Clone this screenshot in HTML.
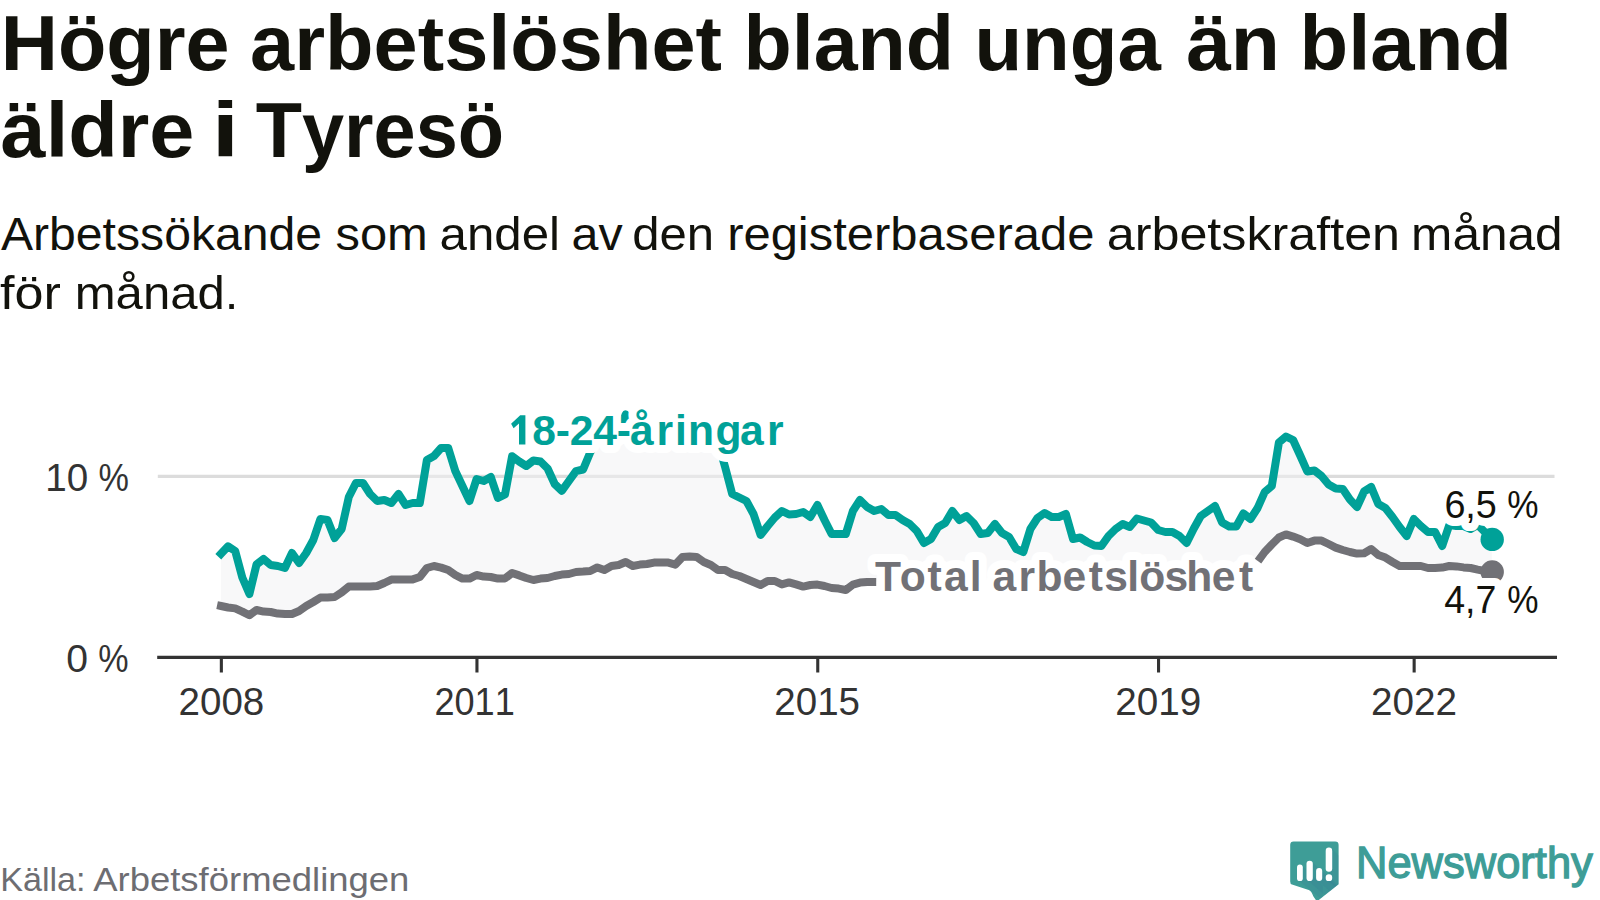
<!DOCTYPE html>
<html><head><meta charset="utf-8"><title>chart</title>
<style>
html,body{margin:0;padding:0;background:#fff;overflow:hidden;}
svg{display:block;}
text{font-family:"Liberation Sans",sans-serif;font-kerning:none;}
</style></head><body>
<svg width="1600" height="900" viewBox="0 0 1600 900">
<rect width="1600" height="900" fill="#ffffff"/>
<g fill="#12120c" font-weight="bold" font-size="78.5">
<text x="0.80" y="70.3" textLength="228.70" lengthAdjust="spacingAndGlyphs">Högre</text>
<text x="250.07" y="70.3" textLength="471.99" lengthAdjust="spacingAndGlyphs">arbetslöshet</text>
<text x="743.49" y="70.3" textLength="210.61" lengthAdjust="spacingAndGlyphs">bland</text>
<text x="974.41" y="70.3" textLength="186.39" lengthAdjust="spacingAndGlyphs">unga</text>
<text x="1186.16" y="70.3" textLength="93.83" lengthAdjust="spacingAndGlyphs">än</text>
<text x="1299.55" y="70.3" textLength="212.40" lengthAdjust="spacingAndGlyphs">bland</text>
<text x="0.64" y="156.6" textLength="193.83" lengthAdjust="spacingAndGlyphs">äldre</text>
<text x="211.83" y="156.6" textLength="27.34" lengthAdjust="spacingAndGlyphs">i</text>
<text x="255.65" y="156.6" textLength="248.51" lengthAdjust="spacingAndGlyphs">Tyresö</text>
</g>
<g fill="#12120c" font-size="47">
<text x="0.91" y="249.5" textLength="321.23" lengthAdjust="spacingAndGlyphs">Arbetssökande</text>
<text x="335.44" y="249.5" textLength="92.38" lengthAdjust="spacingAndGlyphs">som</text>
<text x="439.61" y="249.5" textLength="120.38" lengthAdjust="spacingAndGlyphs">andel</text>
<text x="571.54" y="249.5" textLength="51.12" lengthAdjust="spacingAndGlyphs">av</text>
<text x="632.24" y="249.5" textLength="81.85" lengthAdjust="spacingAndGlyphs">den</text>
<text x="727.15" y="249.5" textLength="367.22" lengthAdjust="spacingAndGlyphs">registerbaserade</text>
<text x="1106.77" y="249.5" textLength="293.30" lengthAdjust="spacingAndGlyphs">arbetskraften</text>
<text x="1411.11" y="249.5" textLength="151.59" lengthAdjust="spacingAndGlyphs">månad</text>
<text x="0.01" y="309.2" textLength="60.85" lengthAdjust="spacingAndGlyphs">för</text>
<text x="74.74" y="309.2" textLength="163.74" lengthAdjust="spacingAndGlyphs">månad.</text>
</g>
<line x1="157.8" y1="476.4" x2="1554.5" y2="476.4" stroke="#dcdcdc" stroke-width="3.1"/>
<polygon points="221.0,553.8 228.1,546.3 235.2,551.0 242.3,577.5 249.4,594.0 256.5,564.5 263.6,559.0 270.7,565.0 277.8,566.0 284.9,568.0 292.0,553.0 299.1,563.0 306.2,553.0 313.3,540.0 320.4,519.0 327.5,520.0 334.6,538.0 341.7,529.0 348.8,497.0 355.9,483.0 363.0,483.0 370.1,494.0 377.2,501.0 384.3,500.0 391.4,503.0 398.5,494.0 405.6,505.0 412.7,503.0 419.8,503.0 426.9,460.0 434.0,456.0 441.1,448.0 448.2,448.0 455.3,471.0 462.4,486.0 469.5,501.0 476.6,479.0 483.7,481.0 490.8,477.0 497.9,498.0 505.0,494.5 512.1,456.2 519.2,461.5 526.3,466.0 533.4,460.5 540.5,461.5 547.6,468.5 554.7,484.0 561.8,490.8 568.9,481.0 576.0,471.2 583.1,469.5 590.2,452.5 597.3,441.0 604.4,438.0 611.5,436.0 618.6,432.0 625.7,414.5 632.8,428.0 639.9,432.0 647.0,436.0 654.1,434.0 661.2,437.0 668.3,439.0 675.4,436.0 682.5,438.0 689.6,440.0 696.7,438.0 703.8,440.0 710.9,441.0 718.0,442.0 725.1,467.0 732.2,494.0 739.3,497.5 746.4,501.0 753.5,514.0 760.6,535.0 767.7,526.0 774.8,517.5 781.9,511.0 789.0,514.5 796.1,514.0 803.2,512.0 810.3,517.0 817.4,505.0 824.5,520.0 831.6,534.0 838.7,534.0 845.8,534.0 852.9,511.0 860.0,500.0 867.1,507.0 874.2,511.0 881.3,509.0 888.4,515.0 895.5,515.0 902.6,520.0 909.7,524.0 916.8,531.0 923.9,543.0 931.0,539.0 938.1,527.0 945.2,523.0 952.3,511.0 959.4,520.0 966.5,516.0 973.6,523.0 980.7,534.0 987.8,533.0 994.9,524.0 1002.0,533.0 1009.1,537.0 1016.2,549.0 1023.3,552.0 1030.4,529.0 1037.5,518.0 1044.6,513.0 1051.7,517.0 1058.8,517.0 1065.9,514.0 1073.0,539.0 1080.1,537.5 1087.2,542.0 1094.3,545.5 1101.4,546.0 1108.5,536.0 1115.6,529.0 1122.7,524.0 1129.8,527.0 1136.9,518.5 1144.0,520.5 1151.1,522.5 1158.2,530.0 1165.3,532.0 1172.4,532.0 1179.5,536.0 1186.6,543.0 1193.7,528.7 1200.8,516.0 1207.9,511.0 1215.0,506.0 1222.1,522.5 1229.2,526.5 1236.3,526.5 1243.4,513.5 1250.5,519.0 1257.6,508.0 1264.7,492.0 1271.8,486.0 1278.9,442.5 1286.0,436.5 1293.1,440.0 1300.2,455.5 1307.3,471.5 1314.4,470.5 1321.5,476.0 1328.6,484.5 1335.7,488.5 1342.8,489.0 1349.9,499.5 1357.0,507.0 1364.1,491.5 1371.2,487.0 1378.3,504.0 1385.4,508.0 1392.5,517.0 1399.6,527.0 1406.7,536.0 1413.8,519.0 1420.9,526.0 1428.0,532.0 1435.1,532.0 1442.2,546.0 1449.3,525.0 1456.4,526.0 1463.5,526.0 1470.6,529.0 1477.7,525.0 1484.8,532.0 1491.9,539.3 1491.9,571.9 1484.8,571.0 1477.7,569.6 1470.6,568.0 1463.5,567.4 1456.4,566.4 1449.3,566.0 1442.2,567.6 1435.1,568.0 1428.0,568.0 1420.9,566.0 1413.8,566.0 1406.7,566.0 1399.6,566.0 1392.5,562.0 1385.4,557.6 1378.3,555.0 1371.2,549.0 1364.1,553.2 1357.0,553.6 1349.9,552.0 1342.8,550.0 1335.7,547.6 1328.6,544.0 1321.5,540.6 1314.4,540.6 1307.3,543.0 1300.2,539.2 1293.1,536.6 1286.0,534.4 1278.9,537.5 1271.8,544.5 1264.7,552.0 1257.6,561.0 1250.5,565.0 1243.4,568.4 1236.3,571.8 1229.2,575.2 1222.1,578.6 1215.0,582.9 1207.9,583.4 1200.8,583.8 1193.7,584.0 1186.6,584.0 1179.5,583.7 1172.4,583.3 1165.3,582.7 1158.2,582.0 1151.1,581.4 1144.0,580.8 1136.9,580.3 1129.8,580.1 1122.7,580.0 1115.6,580.2 1108.5,580.5 1101.4,581.1 1094.3,581.7 1087.2,582.3 1080.1,583.0 1073.0,583.5 1065.9,583.8 1058.8,584.0 1051.7,583.9 1044.6,583.6 1037.5,583.2 1030.4,582.6 1023.3,581.9 1016.2,581.3 1009.1,580.7 1002.0,580.3 994.9,580.0 987.8,580.0 980.7,580.2 973.6,580.6 966.5,581.1 959.4,581.8 952.3,582.4 945.2,583.1 938.1,583.6 931.0,583.9 923.9,584.0 916.8,583.9 909.7,583.6 902.6,583.1 895.5,582.5 888.4,581.8 881.3,581.2 874.2,582.0 867.1,582.0 860.0,582.6 852.9,584.6 845.8,590.0 838.7,588.6 831.6,588.0 824.5,586.0 817.4,584.6 810.3,585.0 803.2,586.6 796.1,584.4 789.0,582.4 781.9,584.4 774.8,581.0 767.7,581.0 760.6,585.0 753.5,582.0 746.4,579.0 739.3,576.0 732.2,574.0 725.1,570.0 718.0,570.0 710.9,565.0 703.8,562.0 696.7,557.0 689.6,556.6 682.5,557.0 675.4,564.6 668.3,562.6 661.2,562.4 654.1,562.6 647.0,564.0 639.9,564.6 632.8,566.0 625.7,562.0 618.6,565.0 611.5,566.0 604.4,570.0 597.3,567.4 590.2,571.0 583.1,571.6 576.0,572.0 568.9,574.0 561.8,574.6 554.7,576.0 547.6,578.0 540.5,578.6 533.4,580.0 526.3,578.0 519.2,575.4 512.1,573.0 505.0,578.4 497.9,578.6 490.8,577.0 483.7,576.6 476.6,575.0 469.5,578.6 462.4,578.6 455.3,575.0 448.2,570.0 441.1,567.6 434.0,566.0 426.9,568.0 419.8,577.0 412.7,579.4 405.6,579.4 398.5,579.4 391.4,579.6 384.3,583.0 377.2,586.0 370.1,586.4 363.0,586.4 355.9,586.4 348.8,586.6 341.7,592.4 334.6,597.0 327.5,597.6 320.4,597.6 313.3,602.0 306.2,606.0 299.1,611.0 292.0,614.0 284.9,614.0 277.8,613.6 270.7,612.0 263.6,611.6 256.5,610.0 249.4,615.2 242.3,611.6 235.2,608.4 228.1,607.5 221.0,606.0" fill="rgba(242,242,244,0.5)"/>
<text x="874.9 899.8 927.6 943.9 969.7 981.6 992.4 1018.4 1036.5 1062.4 1088.8 1104.2 1127.2 1139.2 1164.4 1186.2 1211.8 1238.9" y="591.2" font-weight="bold" font-size="42.6" fill="#ffffff" stroke="#ffffff" stroke-width="16" stroke-linejoin="round">Total arbetslöshet</text>
<g fill="none" stroke-linejoin="round" stroke-linecap="butt" stroke-width="8.0">
<polyline points="217.1,605.2 221.0,606.0 228.1,607.5 235.2,608.4 242.3,611.6 249.4,615.2 256.5,610.0 263.6,611.6 270.7,612.0 277.8,613.6 284.9,614.0 292.0,614.0 299.1,611.0 306.2,606.0 313.3,602.0 320.4,597.6 327.5,597.6 334.6,597.0 341.7,592.4 348.8,586.6 355.9,586.4 363.0,586.4 370.1,586.4 377.2,586.0 384.3,583.0 391.4,579.6 398.5,579.4 405.6,579.4 412.7,579.4 419.8,577.0 426.9,568.0 434.0,566.0 441.1,567.6 448.2,570.0 455.3,575.0 462.4,578.6 469.5,578.6 476.6,575.0 483.7,576.6 490.8,577.0 497.9,578.6 505.0,578.4 512.1,573.0 519.2,575.4 526.3,578.0 533.4,580.0 540.5,578.6 547.6,578.0 554.7,576.0 561.8,574.6 568.9,574.0 576.0,572.0 583.1,571.6 590.2,571.0 597.3,567.4 604.4,570.0 611.5,566.0 618.6,565.0 625.7,562.0 632.8,566.0 639.9,564.6 647.0,564.0 654.1,562.6 661.2,562.4 668.3,562.6 675.4,564.6 682.5,557.0 689.6,556.6 696.7,557.0 703.8,562.0 710.9,565.0 718.0,570.0 725.1,570.0 732.2,574.0 739.3,576.0 746.4,579.0 753.5,582.0 760.6,585.0 767.7,581.0 774.8,581.0 781.9,584.4 789.0,582.4 796.1,584.4 803.2,586.6 810.3,585.0 817.4,584.6 824.5,586.0 831.6,588.0 838.7,588.6 845.8,590.0 852.9,584.6 860.0,582.6 867.1,582.0 874.2,582.0 876.2,582.0" stroke="#717176"/>
<polyline points="1258.0,561.2 1264.7,552.0 1271.8,544.5 1278.9,537.5 1286.0,534.4 1293.1,536.6 1300.2,539.2 1307.3,543.0 1314.4,540.6 1321.5,540.6 1328.6,544.0 1335.7,547.6 1342.8,550.0 1349.9,552.0 1357.0,553.6 1364.1,553.2 1371.2,549.0 1378.3,555.0 1385.4,557.6 1392.5,562.0 1399.6,566.0 1406.7,566.0 1413.8,566.0 1420.9,566.0 1428.0,568.0 1435.1,568.0 1442.2,567.6 1449.3,566.0 1456.4,566.4 1463.5,567.4 1470.6,568.0 1477.7,569.6 1484.8,571.0 1491.9,571.9" stroke="#717176"/>
<polyline points="218.3,556.7 221.0,553.8 228.1,546.3 235.2,551.0 242.3,577.5 249.4,594.0 256.5,564.5 263.6,559.0 270.7,565.0 277.8,566.0 284.9,568.0 292.0,553.0 299.1,563.0 306.2,553.0 313.3,540.0 320.4,519.0 327.5,520.0 334.6,538.0 341.7,529.0 348.8,497.0 355.9,483.0 363.0,483.0 370.1,494.0 377.2,501.0 384.3,500.0 391.4,503.0 398.5,494.0 405.6,505.0 412.7,503.0 419.8,503.0 426.9,460.0 434.0,456.0 441.1,448.0 448.2,448.0 455.3,471.0 462.4,486.0 469.5,501.0 476.6,479.0 483.7,481.0 490.8,477.0 497.9,498.0 505.0,494.5 512.1,456.2 519.2,461.5 526.3,466.0 533.4,460.5 540.5,461.5 547.6,468.5 554.7,484.0 561.8,490.8 568.9,481.0 576.0,471.2 583.1,469.5 590.2,452.5 597.3,441.0 604.4,438.0 611.5,436.0 618.6,432.0 625.7,414.5 632.8,428.0 639.9,432.0 647.0,436.0 654.1,434.0 661.2,437.0 668.3,439.0 675.4,436.0 682.5,438.0 689.6,440.0 696.7,438.0 703.8,440.0 710.9,441.0 718.0,442.0 725.1,467.0 732.2,494.0 739.3,497.5 746.4,501.0 753.5,514.0 760.6,535.0 767.7,526.0 774.8,517.5 781.9,511.0 789.0,514.5 796.1,514.0 803.2,512.0 810.3,517.0 817.4,505.0 824.5,520.0 831.6,534.0 838.7,534.0 845.8,534.0 852.9,511.0 860.0,500.0 867.1,507.0 874.2,511.0 881.3,509.0 888.4,515.0 895.5,515.0 902.6,520.0 909.7,524.0 916.8,531.0 923.9,543.0 931.0,539.0 938.1,527.0 945.2,523.0 952.3,511.0 959.4,520.0 966.5,516.0 973.6,523.0 980.7,534.0 987.8,533.0 994.9,524.0 1002.0,533.0 1009.1,537.0 1016.2,549.0 1023.3,552.0 1030.4,529.0 1037.5,518.0 1044.6,513.0 1051.7,517.0 1058.8,517.0 1065.9,514.0 1073.0,539.0 1080.1,537.5 1087.2,542.0 1094.3,545.5 1101.4,546.0 1108.5,536.0 1115.6,529.0 1122.7,524.0 1129.8,527.0 1136.9,518.5 1144.0,520.5 1151.1,522.5 1158.2,530.0 1165.3,532.0 1172.4,532.0 1179.5,536.0 1186.6,543.0 1193.7,528.7 1200.8,516.0 1207.9,511.0 1215.0,506.0 1222.1,522.5 1229.2,526.5 1236.3,526.5 1243.4,513.5 1250.5,519.0 1257.6,508.0 1264.7,492.0 1271.8,486.0 1278.9,442.5 1286.0,436.5 1293.1,440.0 1300.2,455.5 1307.3,471.5 1314.4,470.5 1321.5,476.0 1328.6,484.5 1335.7,488.5 1342.8,489.0 1349.9,499.5 1357.0,507.0 1364.1,491.5 1371.2,487.0 1378.3,504.0 1385.4,508.0 1392.5,517.0 1399.6,527.0 1406.7,536.0 1413.8,519.0 1420.9,526.0 1428.0,532.0 1435.1,532.0 1442.2,546.0 1449.3,525.0 1456.4,526.0 1463.5,526.0 1470.6,529.0 1477.7,525.0 1484.8,532.0 1491.9,539.3" stroke="#00a198"/>
</g>
<circle cx="1492.2" cy="572" r="11.7" fill="#717176"/>
<circle cx="1492.2" cy="539.4" r="11.7" fill="#00a198"/>
<line x1="157.2" y1="657.4" x2="1557" y2="657.4" stroke="#333333" stroke-width="3.1"/>
<g stroke="#333333" stroke-width="3.1">
<line x1="221.35" y1="657" x2="221.35" y2="672.5"/>
<line x1="476.95" y1="657" x2="476.95" y2="672.5"/>
<line x1="817.75" y1="657" x2="817.75" y2="672.5"/>
<line x1="1158.55" y1="657" x2="1158.55" y2="672.5"/>
<line x1="1414.15" y1="657" x2="1414.15" y2="672.5"/>
</g>
<g fill="#333333" font-size="38.8">
<text x="45.16" y="490.75" textLength="42.95" lengthAdjust="spacingAndGlyphs">10</text>
<text x="98.38" y="490.75" textLength="30.44" lengthAdjust="spacingAndGlyphs">%</text>
<text x="66.17" y="671.7" textLength="21.76" lengthAdjust="spacingAndGlyphs">0</text>
<text x="98.18" y="671.7" textLength="30.33" lengthAdjust="spacingAndGlyphs">%</text>
<text x="178.56" y="714.8" textLength="85.71" lengthAdjust="spacingAndGlyphs">2008</text>
<text x="434.43" y="714.8" textLength="80.33" lengthAdjust="spacingAndGlyphs">2011</text>
<text x="774.36" y="714.8" textLength="85.65" lengthAdjust="spacingAndGlyphs">2015</text>
<text x="1115.16" y="714.8" textLength="85.97" lengthAdjust="spacingAndGlyphs">2019</text>
<text x="1371.05" y="714.8" textLength="86.09" lengthAdjust="spacingAndGlyphs">2022</text>
</g>
<g font-weight="bold" font-size="42.6">
<text x="532.3 555.7 569.7 593.3 616.7 630.1 656.6 675.1 688.1 715.6 740.1 767.0" y="444.5" fill="#ffffff" stroke="#ffffff" stroke-width="16" stroke-linejoin="round">8-24-åringar</text>
<polygon points="525.4,415.2 525.4,444.5 519,444.5 519,423.6 513.6,428.2 511.1,423.7 520.2,415.2" fill="#ffffff" stroke="#ffffff" stroke-width="16" stroke-linejoin="round"/>
<text id="l1" x="532.3 555.7 569.7 593.3 616.7 630.1 656.6 675.1 688.1 715.6 740.1 767.0" y="444.5" fill="#00a198">8-24-åringar</text>
<polygon points="525.4,415.2 525.4,444.5 519,444.5 519,423.6 513.6,428.2 511.1,423.7 520.2,415.2" fill="#00a198"/>
<text id="l2" x="874.9 899.8 927.6 943.9 969.7 981.6 992.4 1018.4 1036.5 1062.4 1088.8 1104.2 1127.2 1139.2 1164.4 1186.2 1211.8 1238.9" y="591.2" fill="#717176">Total arbetslöshet</text>
</g>
<g font-size="38.6" fill="#ffffff" stroke="#ffffff" stroke-width="16" stroke-linejoin="round">
<text x="1444.38" y="518.3" textLength="52.50" lengthAdjust="spacingAndGlyphs">6,5</text>
<text x="1507.24" y="518.3" textLength="31.31" lengthAdjust="spacingAndGlyphs">%</text>
<text x="1444.24" y="612.8" textLength="52.15" lengthAdjust="spacingAndGlyphs">4,7</text>
<text x="1507.24" y="612.8" textLength="31.31" lengthAdjust="spacingAndGlyphs">%</text>
</g>
<g font-size="38.6" fill="#12120c">
<text x="1444.38" y="518.3" textLength="52.50" lengthAdjust="spacingAndGlyphs">6,5</text>
<text x="1507.24" y="518.3" textLength="31.31" lengthAdjust="spacingAndGlyphs">%</text>
<text x="1444.24" y="612.8" textLength="52.15" lengthAdjust="spacingAndGlyphs">4,7</text>
<text x="1507.24" y="612.8" textLength="31.31" lengthAdjust="spacingAndGlyphs">%</text>
</g>
<g font-size="34" fill="#6d6d72">
<text x="0.20" y="890.6" textLength="85.42" lengthAdjust="spacingAndGlyphs">Källa:</text>
<text x="93.23" y="890.6" textLength="316.14" lengthAdjust="spacingAndGlyphs">Arbetsförmedlingen</text>
</g>
<g id="logo">
<defs><clipPath id="bub"><path d="M1293.6,841.4 H1335.2 Q1338.6,841.4 1338.6,844.8 V884.2 L1316.9,901.5 L1313.3,896.3 Q1311.5,891 1308.7,890 L1292,884.6 Q1290.2,884 1290.2,881.5 V844.8 Q1290.2,841.4 1293.6,841.4 Z"/></clipPath></defs>
<path d="M1293.6,841.4 H1335.2 Q1338.6,841.4 1338.6,844.8 V884.2 L1316.9,901.5 L1313.3,896.3 Q1311.5,891 1308.7,890 L1292,884.6 Q1290.2,884 1290.2,881.5 V844.8 Q1290.2,841.4 1293.6,841.4 Z" fill="#3e9d97"/>
<g clip-path="url(#bub)" fill="#2f6f93" fill-opacity="0.16">
<polygon points="1302.7,866 1322.7,886 1322.7,900 1299,881"/>
<polygon points="1312.9,862.5 1336,885.6 1330,900 1308.5,881"/>
<polygon points="1322.2,869.5 1340,887.3 1340,900 1318,881"/>
<polygon points="1332.2,849 1345,861.8 1345,894 1328,881"/>
</g>
<g fill="#ffffff">
<rect x="1297" y="864.5" width="5.8" height="16.6" rx="2.9"/>
<rect x="1306.5" y="860.7" width="6.3" height="20.4" rx="3.1"/>
<rect x="1316.1" y="867.9" width="6.1" height="13.2" rx="3"/>
<rect x="1325.7" y="847.5" width="6.5" height="24.2" rx="3.2"/>
<rect x="1325.7" y="874.3" width="6.5" height="6.8" rx="3.2"/>
</g>
</g>
<g font-size="44" fill="#3e9d97" stroke="#3e9d97" stroke-width="1.3">
<text x="1356.03" y="878.2" textLength="236.85" lengthAdjust="spacingAndGlyphs">Newsworthy</text>
</g>
</svg>
</body></html>
